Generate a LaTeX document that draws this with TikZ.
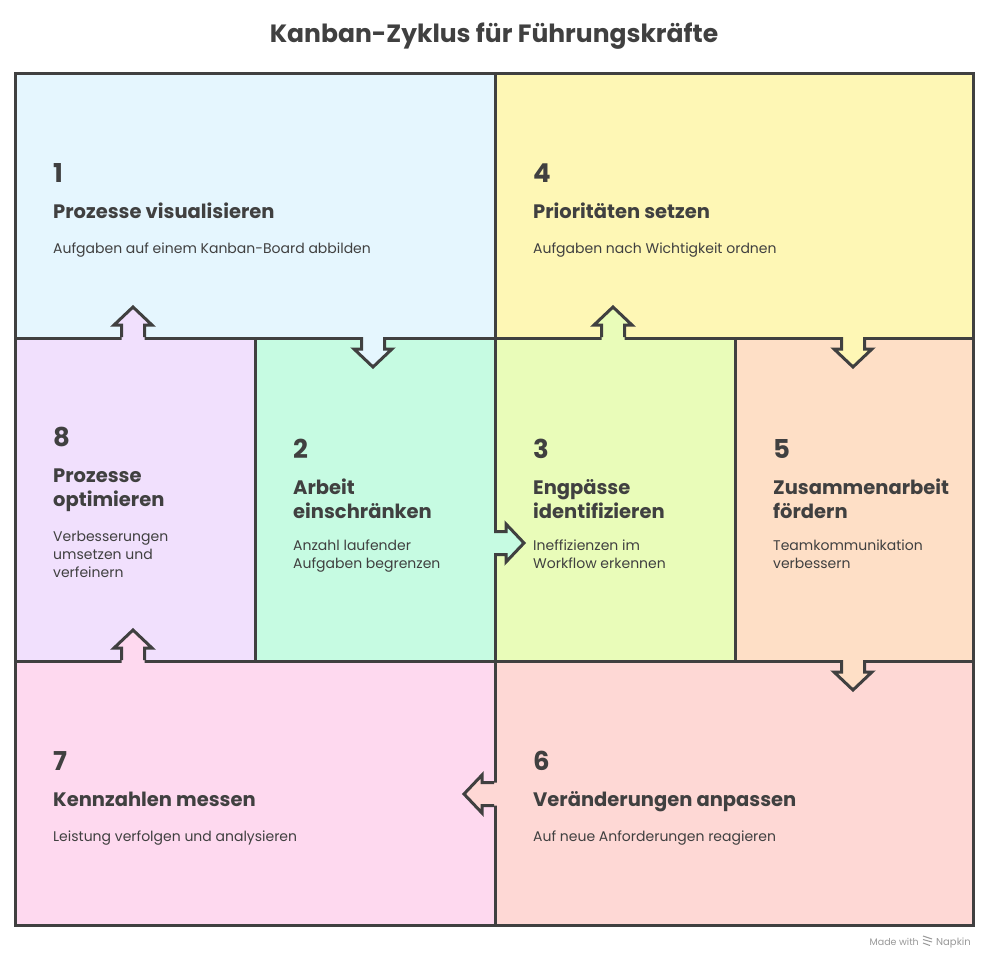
\documentclass[tikz,border=0pt]{standalone}
\usepackage{fontspec}
\setmainfont{Poppins}
\begin{document}
\begin{tikzpicture}[x=1pt,y=-1pt,
  box/.style={draw=ink,line width=3pt,minimum width=#1,inner sep=0pt,anchor=north west},
  num/.style={anchor=base west,inner sep=0pt,text=ink,font=\fontsize{26}{30}\selectfont\bfseries},
  ttl/.style={anchor=base west,inner sep=0pt,text=ink,align=left,font=\fontsize{19.5}{24}\selectfont\bfseries},
  dsc/.style={anchor=base west,inner sep=0pt,text=ink,align=left,font=\fontsize{14}{18}\selectfont},
  arrowline/.style={draw=ink,line width=3pt,line join=miter},
]
\definecolor{ink}{HTML}{404040}
\definecolor{cblue}{HTML}{E5F6FE}
\definecolor{cyellow}{HTML}{FEF7B5}
\definecolor{clav}{HTML}{F1E0FD}
\definecolor{cmint}{HTML}{C6FBE2}
\definecolor{clime}{HTML}{E9FCB9}
\definecolor{cpeach}{HTML}{FEDFC6}
\definecolor{cpink}{HTML}{FED9EF}
\definecolor{csalmon}{HTML}{FED8D5}
\useasboundingbox (0,0) rectangle (989,959);
\fill[white] (0,0) rectangle (989,959);

\node[text=ink,font=\fontsize{25}{28}\selectfont\bfseries,anchor=base] (title) at (494,42) {Kanban-Zyklus für Führungskräfte};

% boxes
\node[box=480pt,minimum height=265pt,fill=cblue] (b1) at (14,72) {};
\node[box=478pt,minimum height=265pt,fill=cyellow] (b4) at (494,72) {};
\node[box=240pt,minimum height=323pt,fill=clav] (b8) at (14,337) {};
\node[box=240pt,minimum height=323pt,fill=cmint] (b2) at (254,337) {};
\node[box=240pt,minimum height=323pt,fill=clime] (b3) at (494,337) {};
\node[box=238pt,minimum height=323pt,fill=cpeach] (b5) at (734,337) {};
\node[box=480pt,minimum height=264pt,fill=cpink] (b7) at (14,660) {};
\node[box=478pt,minimum height=264pt,fill=csalmon] (b6) at (494,660) {};

% tab arrows
\newcommand\tabarrow[3]{%
  \begin{scope}[shift={(#1)},rotate=#2]
    \fill[#3] (-11.5,3) -- (-11.5,-12) -- (-19,-12) -- (0,-30) -- (19,-12) -- (11.5,-12) -- (11.5,3) -- cycle;
    \draw[arrowline] (-11.5,0) -- (-11.5,-12) -- (-19,-12) -- (0,-30) -- (19,-12) -- (11.5,-12) -- (11.5,0);
  \end{scope}}
\coordinate (a81) at (133,337);
\coordinate (a12) at (373,337);
\coordinate (a23) at (494,543);
\coordinate (a34) at (613,337);
\coordinate (a45) at (853,337);
\coordinate (a56) at (853,660);
\coordinate (a67) at (494,794);
\coordinate (a78) at (133,660);
\tabarrow{a81}{0}{clav}
\tabarrow{a12}{180}{cblue}
\tabarrow{a23}{-90}{cmint}
\tabarrow{a34}{0}{clime}
\tabarrow{a45}{180}{cyellow}
\tabarrow{a56}{180}{cpeach}
\tabarrow{a67}{90}{csalmon}
\tabarrow{a78}{0}{cpink}

% texts (multi-line nodes: anchor at last line's baseline)
\node[num] (n1) at (53,182) {1};
\node[ttl] (t1) at (53,218) {Prozesse visualisieren};
\node[dsc] (d1) at (53,253) {Aufgaben auf einem Kanban-Board abbilden};

\node[num] (n4) at (533,182) {4};
\node[ttl] (t4) at (533,218) {Prioritäten setzen};
\node[dsc] (d4) at (533,253) {Aufgaben nach Wichtigkeit ordnen};

\node[num] (n8) at (53,446) {8};
\node[ttl] (t8) at (53,506) {Prozesse\\optimieren};
\node[dsc] (d8) at (53,577) {Verbesserungen\\umsetzen und\\verfeinern};

\node[num] (n2) at (293,458) {2};
\node[ttl] (t2) at (293,518) {Arbeit\\einschränken};
\node[dsc] (d2) at (293,568) {Anzahl laufender\\Aufgaben begrenzen};

\node[num] (n3) at (533,458) {3};
\node[ttl] (t3) at (533,518) {Engpässe\\identifizieren};
\node[dsc] (d3) at (533,568) {Ineffizienzen im\\Workflow erkennen};

\node[num] (n5) at (773,458) {5};
\node[ttl] (t5) at (773,518) {Zusammenarbeit\\fördern};
\node[dsc] (d5) at (773,568) {Teamkommunikation\\verbessern};

\node[num] (n7) at (53,770) {7};
\node[ttl] (t7) at (53,806) {Kennzahlen messen};
\node[dsc] (d7) at (53,841) {Leistung verfolgen und analysieren};

\node[num] (n6) at (533,770) {6};
\node[ttl] (t6) at (533,806) {Veränderungen anpassen};
\node[dsc] (d6) at (533,841) {Auf neue Anforderungen reagieren};

% footer
\node[anchor=base east,inner sep=0pt,text=black!40,font=\fontsize{9.5}{11}\selectfont] (mw) at (919,945) {Made with};
\node[anchor=base west,inner sep=0pt,text=black!40,font=\fontsize{10}{11}\selectfont] (np) at (936,945) {Napkin};
\draw[black!40,line width=1pt] (923,936) -- (932,939) (923,939.5) -- (932,942) (923,943) -- (930,945.5);
\end{tikzpicture}
\end{document}
